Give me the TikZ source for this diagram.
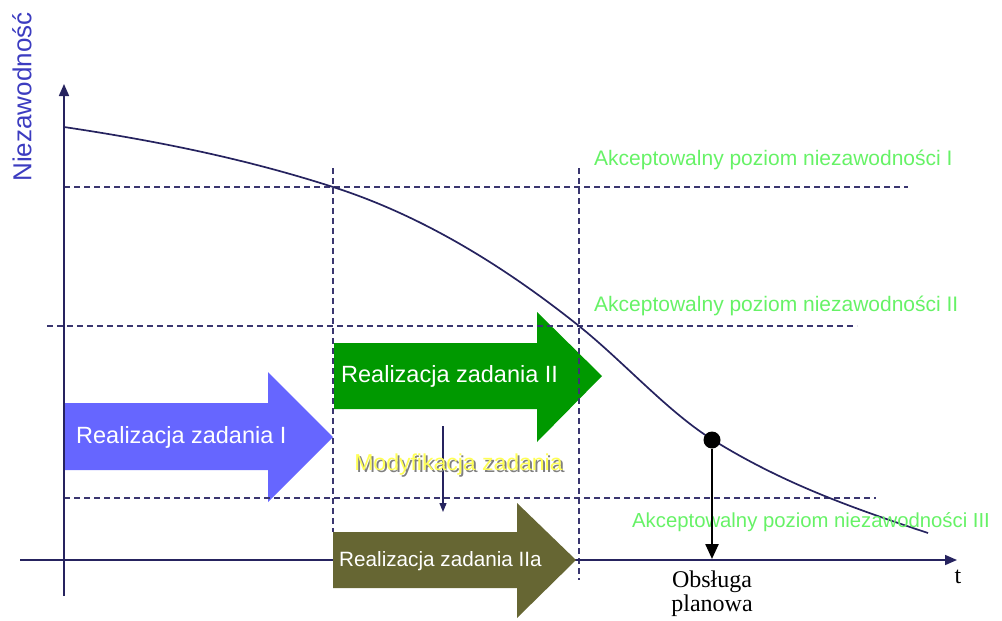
\documentclass[tikz,border=0pt]{standalone}
\usepackage{fontspec}
\setmainfont{Liberation Sans}
\newfontfamily\serifont{Liberation Serif}
\usetikzlibrary{arrows.meta}
\definecolor{navy}{HTML}{26235F}
\definecolor{dashc}{HTML}{3A3670}
\definecolor{lgreen}{HTML}{66F266}
\definecolor{bluearr}{HTML}{6666FF}
\definecolor{greenarr}{HTML}{009900}
\definecolor{olivearr}{HTML}{666633}
\definecolor{ylabel}{HTML}{3C3CC0}
\definecolor{yel}{HTML}{FFFF55}
\definecolor{shad}{HTML}{808080}
\tikzset{
  lvl/.style={draw=dashc, line width=1.2pt, dash pattern=on 6pt off 4pt},
  axisline/.style={draw=navy, line width=1.7pt, -{Triangle[length=12pt,width=10pt]}},
  lvltext/.style={text=lgreen, font=\fontsize{21}{24}\selectfont, anchor=west, inner sep=0pt},
  arrtext/.style={text=white, font=\fontsize{23.5}{28}\selectfont, anchor=west, inner sep=0pt},
}
\newcommand{\shadowtext}[1]{\makebox[0pt][l]{\hspace{2pt}\raisebox{-2pt}{\textcolor{shad}{#1}}}\textcolor{yel}{#1}}
\begin{document}
\begin{tikzpicture}[x=1pt,y=-1pt]
\useasboundingbox (0,0) rectangle (1002,621);
% arrows (shapes)
\fill[bluearr] (65,403) -- (268,403) -- (268,372) -- (333,437) -- (268,502) -- (268,470) -- (65,470) -- cycle;
\fill[greenarr] (334,343) -- (537,343) -- (537,312) -- (602,376) -- (537,442) -- (537,409) -- (334,409) -- cycle;
% dashed levels
\coordinate (l1a) at (64,187); \coordinate (l1b) at (908,187);
\coordinate (l2a) at (47,326); \coordinate (l2b) at (857,326);
\coordinate (l3a) at (64,498); \coordinate (l3b) at (876,498);
\draw[lvl] (l1a) -- (l1b);
\draw[lvl] (l2a) -- (l2b);
\draw[lvl] (l3a) -- (l3b);
\coordinate (v1a) at (333,168); \coordinate (v1b) at (333,532);
\coordinate (v2a) at (579,168); \coordinate (v2b) at (579,580);
\draw[lvl] (v1a) -- (v1b);
\draw[lvl] (v2a) -- (v2b);
% axes
\coordinate (o1) at (64,596); \coordinate (ytip) at (64,84);
\coordinate (o2) at (20,560); \coordinate (xtip) at (957,560);
\draw[axisline] (o1) -- (ytip);
\draw[axisline] (o2) -- (xtip);
% olive arrow on top of axis
\fill[olivearr] (333,532) -- (517,532) -- (517,503) -- (576,560) -- (517,618) -- (517,588) -- (333,588) -- cycle;
% curve
\coordinate (c0) at (64,127); \coordinate (c1) at (333,187); \coordinate (c2) at (579,326);
\coordinate (c3) at (713,440); \coordinate (c4) at (928,533);
\draw[navy, line width=1.7pt] (c0) .. controls (154,140.5) and (243,158) .. (c1)
  .. controls (415,213.2) and (497,260.4) .. (c2)
  .. controls (623.7,361.8) and (668.3,412.3) .. (c3)
  .. controls (784.7,484.5) and (856.3,509.3) .. (c4);
% texts in arrows
\node[arrtext] (t1) at (76,437) {Realizacja zadania I};
\node[arrtext] (t2) at (341,376) {Realizacja zadania II};
\node[arrtext, font=\fontsize{20.7}{24}\selectfont] (t3) at (339,561) {Realizacja zadania IIa};
% modification
\coordinate (m1) at (443,426); \coordinate (m2) at (443,512);
\draw[navy, line width=1.2pt, -{Triangle[length=9pt,width=7pt]}] (m1) -- (m2);
\node[font=\fontsize{23}{26}\selectfont, inner sep=0pt] (mod) at (458.5,466) {\shadowtext{Modyfikacja zadania}};
% level labels
\node[lvltext] (a1) at (594,160) {Akceptowalny poziom niezawodności I};
\node[lvltext] (a2) at (594,306) {Akceptowalny poziom niezawodności II};
\node[lvltext, font=\fontsize{20.3}{24}\selectfont] (a3) at (632,522) {Akceptowalny poziom niezawodności III};
% maintenance
\node[circle, fill=black, inner sep=0pt, minimum size=17pt] (dot) at (712,440) {};
\coordinate (dbot) at (712,559);
\draw[black, line width=2.4pt, -{Triangle[length=15pt,width=13pt]}] (dot) -- (dbot);
\node[font=\serifont\fontsize{24}{24}\selectfont, align=center, inner sep=0pt] (obs) at (712,594) {Obsługa\\planowa};
\node[font=\serifont\fontsize{24}{24}\selectfont, inner sep=0pt] (t) at (958,577) {t};
% y label
\node[text=ylabel, rotate=90, font=\fontsize{26}{30}\selectfont, inner sep=0pt] (yl) at (22,97) {Niezawodność};
\end{tikzpicture}
\end{document}
